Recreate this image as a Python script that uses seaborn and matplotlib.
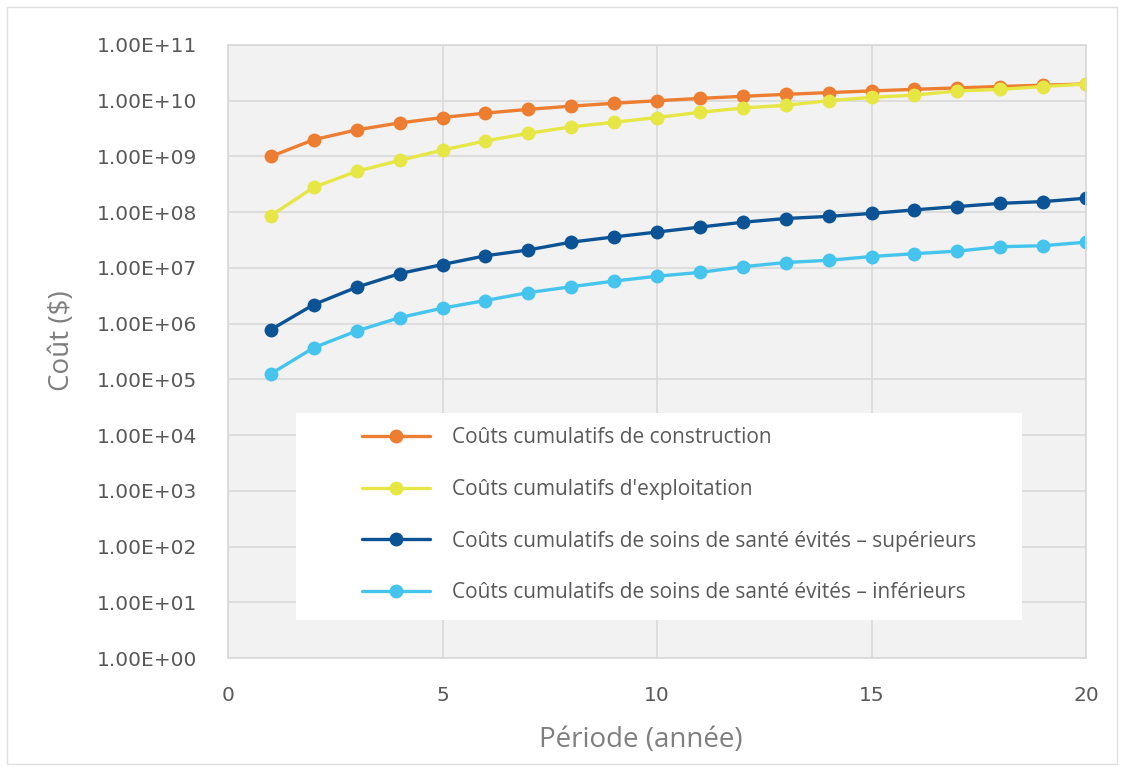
import matplotlib
matplotlib.use("Agg")
import matplotlib.pyplot as plt
import matplotlib.ticker as mticker
from matplotlib.patches import Rectangle
import seaborn as sns
import pandas as pd

years = list(range(1, 21))
construction = [1.0e9, 2.0e9, 3.0e9, 4.0e9, 5.0e9, 6.0e9, 7.0e9, 8.0e9, 9.0e9, 1.0e10,
                1.1e10, 1.2e10, 1.3e10, 1.4e10, 1.5e10, 1.6e10, 1.7e10, 1.8e10, 1.9e10, 2.0e10]
exploitation = [8.7e7, 2.8e8, 5.4e8, 8.5e8, 1.3e9, 1.9e9, 2.6e9, 3.4e9, 4.1e9, 5.0e9,
                6.2e9, 7.4e9, 8.3e9, 1.0e10, 1.15e10, 1.26e10, 1.5e10, 1.6e10, 1.8e10, 2.0e10]
sante_sup = [7.8e5, 2.2e6, 4.5e6, 7.9e6, 1.15e7, 1.65e7, 2.1e7, 2.9e7, 3.6e7, 4.4e7,
             5.4e7, 6.6e7, 7.7e7, 8.4e7, 9.5e7, 1.1e8, 1.26e8, 1.44e8, 1.55e8, 1.78e8]
sante_inf = [1.26e5, 3.7e5, 7.4e5, 1.28e6, 1.9e6, 2.6e6, 3.6e6, 4.6e6, 5.8e6, 7.1e6,
             8.3e6, 1.05e7, 1.25e7, 1.37e7, 1.6e7, 1.8e7, 2.0e7, 2.4e7, 2.5e7, 2.9e7]

series_names = ["Coûts cumulatifs de construction",
                "Coûts cumulatifs d'exploitation",
                "Coûts cumulatifs de soins de santé évités – supérieurs",
                "Coûts cumulatifs de soins de santé évités – inférieurs"]
colors = ["#ED7D31", "#E6E645", "#0B5394", "#45C4EE"]

y_ticks = [10.0 ** k for k in range(0, 12)]
x_ticks = [0, 5, 10, 15, 20]

rows = []
for name, vals in zip(series_names, [construction, exploitation, sante_sup, sante_inf]):
    for yr, v in zip(years, vals):
        rows.append({"Période": yr, "Coût": v, "Série": name})
df = pd.DataFrame(rows)

sns.set_style("white")
plt.rcParams['font.family'] = ['DejaVu Sans']

fig = plt.figure(figsize=(11.21, 7.66), dpi=100)
ax = fig.add_axes([228 / 1121, 1 - 658 / 766, (1086 - 228) / 1121, (658 - 45) / 766])
ax.set_facecolor("#F2F2F2")

sns.lineplot(data=df, x="Période", y="Coût", hue="Série", hue_order=series_names,
             palette=colors, marker="o", markersize=10, markeredgewidth=0,
             linewidth=2.4, ax=ax, legend=True)

ax.set_yscale("log")
ax.set_ylim(1, 1e11)
ax.set_xlim(0, 20)
ax.set_yticks(y_ticks)
ax.yaxis.set_minor_locator(mticker.NullLocator())
ax.yaxis.set_major_formatter(mticker.FuncFormatter(lambda v, p: f"{v:.2E}"))
ax.set_xticks(x_ticks)
ax.grid(True, color="#D9D9D9", linewidth=1.2)
ax.set_axisbelow(True)
for s in ax.spines.values():
    s.set_color("#D9D9D9")
    s.set_linewidth(1.2)
ax.tick_params(axis="both", length=0, labelcolor="#595959", labelsize=14.5)
ax.tick_params(axis="y", pad=22)
ax.tick_params(axis="x", pad=20)

ax.set_xlabel("Période (année)", fontsize=20, color="#7F7F7F", family="Open Sans")
ax.set_ylabel("Coût ($)", fontsize=20, color="#7F7F7F", family="Open Sans")
ax.xaxis.set_label_coords((641 - 228) / 858, -(740 - 658) / 613)
ax.yaxis.set_label_coords(-(228 - 62) / 858, 1 - (341 - 45) / 613)
ax.xaxis.label.set_va("center")
ax.yaxis.label.set_va("center")

# legend background box
ax.add_patch(Rectangle((68 / 858, 1 - (620 - 45) / 613), (1022 - 296) / 858, (620 - 413) / 613,
                       transform=ax.transAxes, facecolor="white", edgecolor="none", zorder=4))
handles, labels = ax.get_legend_handles_labels()
leg = ax.legend(handles, labels, loc="upper left",
                bbox_to_anchor=((362 - 228) / 858, 1 - (427 - 45) / 613),
                frameon=False, borderaxespad=0, borderpad=0,
                handlelength=3.27, handletextpad=1.06, labelspacing=1.48,
                prop={"family": "Open Sans", "size": 15})
for t in leg.get_texts():
    t.set_color("#595959")
leg.set_zorder(5)

fig.patches.append(Rectangle((7 / 1121, 2 / 766), 1110 / 1121, 757 / 766,
                             transform=fig.transFigure, facecolor="none",
                             edgecolor="#E0E0E0", linewidth=1))

fig.savefig("out.png", dpi=100, facecolor="white")
